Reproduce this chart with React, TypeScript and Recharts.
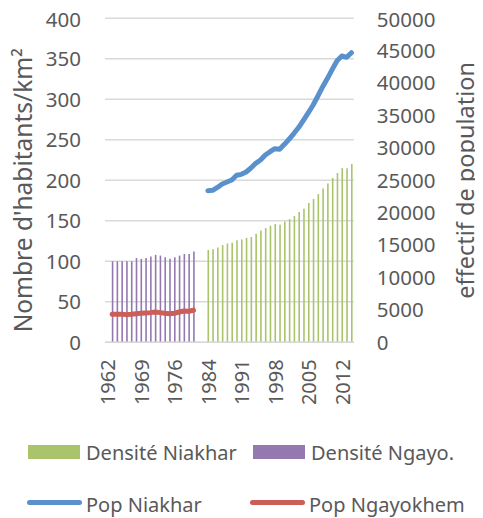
import { ComposedChart, Bar, Line, XAxis, YAxis, CartesianGrid, Legend, Label } from "recharts";

// categories (no 1983 in the series)
const years = [
  1962, 1963, 1964, 1965, 1966, 1967, 1968, 1969, 1970, 1971, 1972, 1973, 1974, 1975, 1976, 1977, 1978, 1979,
  1980, 1981, 1982, 1984, 1985, 1986, 1987, 1988, 1989, 1990, 1991, 1992, 1993, 1994, 1995, 1996, 1997, 1998,
  1999, 2000, 2001, 2002, 2003, 2004, 2005, 2006, 2007, 2008, 2009, 2010, 2011, 2012, 2013, 2014,
];

// Ngayokhem, 1963-1980
const ngayoStart = 1963;
const densiteNgayo = [100, 100, 100, 100, 100, 104, 103, 104, 106, 108, 107, 105, 103, 105, 107, 109, 109, 112];
const popNgayo = [4320, 4320, 4320, 4270, 4320, 4420, 4480, 4530, 4580, 4680, 4580, 4480, 4420, 4480, 4680, 4840, 4790, 4940];

// Niakhar, 1984-2014
const niakharStart = 1984;
const densiteNiakhar = [
  114, 115, 117, 120, 122, 123, 126, 127, 129, 130, 134, 138, 141, 144, 146, 145, 149, 152, 156, 161, 165, 172,
  177, 183, 190, 196, 203, 209, 215, 215, 220,
];
const popNiakhar = [
  23400, 23450, 23900, 24430, 24740, 25050, 25770, 25920, 26280, 26900, 27620, 28130, 28900, 29410, 29880, 29780,
  30550, 31370, 32250, 33180, 34300, 35430, 36620, 38010, 39450, 40740, 42130, 43460, 44180, 43980, 44690,
];

const leftTicks = [0, 50, 100, 150, 200, 250, 300, 350, 400];
const rightTicks = [0, 5000, 10000, 15000, 20000, 25000, 30000, 35000, 40000, 45000, 50000];

const pick = (arr: number[], start: number, year: number) => {
  const i = year - start;
  return i >= 0 && i < arr.length ? arr[i] : null;
};

const data = years.map((year) => ({
  year: String(year),
  densiteNiakhar: pick(densiteNiakhar, niakharStart, year),
  densiteNgayo: pick(densiteNgayo, ngayoStart, year),
  popNiakhar: pick(popNiakhar, niakharStart, year),
  popNgayo: pick(popNgayo, ngayoStart, year),
}));

const FONT = '"Noto Sans", sans-serif';
const TEXT = "#595959";
const GREEN = "#A9C46B";
const PURPLE = "#9478B0";
const BLUE = "#5A90CB";
const RED = "#CB5E56";

function YearTick({ x, y, payload }: any) {
  return (
    <text
      x={x}
      y={y}
      dy={0.5}
      transform={`rotate(-90, ${x}, ${y})`}
      textAnchor="end"
      dominantBaseline="central"
      fill={TEXT}
      fontSize={20}
      fontFamily={FONT}
    >
      {payload.value}
    </text>
  );
}

function ChartLegend() {
  const items = [
    { label: "Densité Niakhar", color: GREEN, kind: "bar", left: 20, top: 15 },
    { label: "Densité Ngayo.", color: PURPLE, kind: "bar", left: 245, top: 15 },
    { label: "Pop Niakhar", color: BLUE, kind: "line", left: 19, top: 65 },
    { label: "Pop Ngayokhem", color: RED, kind: "line", left: 242, top: 65 },
  ];
  return (
    <div style={{ position: "relative", width: 475, height: 88, fontFamily: FONT, fontSize: 20, color: TEXT }}>
      {items.map((it) => (
        <div
          key={it.label}
          style={{ position: "absolute", left: it.left, top: it.top, height: 14, display: "flex", alignItems: "center" }}
        >
          {it.kind === "bar" ? (
            <span style={{ display: "inline-block", width: 52, height: 14, background: it.color }} />
          ) : (
            <span style={{ display: "inline-block", width: 55, height: 5, borderRadius: 3, background: it.color }} />
          )}
          <span style={{ marginLeft: it.kind === "bar" ? 6 : 4, whiteSpace: "nowrap", lineHeight: "14px", position: "relative", top: it.kind === "bar" ? 1 : 3 }}>
            {it.label}
          </span>
        </div>
      ))}
    </div>
  );
}

export default function App() {
  return (
    <ComposedChart
      width={475}
      height={510}
      data={data}
      margin={{ top: 10.3, right: 0, bottom: 0, left: 0 }}
      style={{ fontFamily: FONT }}
    >
      <CartesianGrid yAxisId="left" vertical={false} stroke="#D9D9D9" strokeWidth={1.5} />
      <XAxis
        dataKey="year"
        interval={6}
        height={87.7}
        tickLine={false}
        tickSize={0}
        tickMargin={17}
        axisLine={{ stroke: "#D9D9D9", strokeWidth: 1.5 }}
        tick={<YearTick />}
      />
      <YAxis
        yAxisId="left"
        width={97}
        domain={[0, 400]}
        ticks={leftTicks}
        tickLine={false}
        axisLine={false}
        tickSize={0}
        tickMargin={24}
        tick={{ fill: TEXT, fontSize: 20.5, fontFamily: FONT }}
      >
        <Label
          content={({ viewBox }: any) => {
            const cx = viewBox.x + 15;
            const cy = viewBox.y + viewBox.height / 2 + 10;
            return (
              <text
                x={cx}
                y={cy}
                transform={`rotate(-90, ${cx}, ${cy})`}
                textAnchor="middle"
                dominantBaseline="central"
                fill={TEXT}
                fontSize={24.5}
                fontFamily={FONT}
              >
                Nombre d'habitants/km²
              </text>
            );
          }}
        />
      </YAxis>
      <YAxis
        yAxisId="right"
        orientation="right"
        width={129.2}
        domain={[0, 50000]}
        ticks={rightTicks}
        tickLine={false}
        axisLine={false}
        tickSize={0}
        tickMargin={23}
        tick={{ fill: TEXT, fontSize: 20.5, fontFamily: FONT }}
      >
        <Label
          content={({ viewBox }: any) => {
            const cx = viewBox.x + 111.7;
            const cy = viewBox.y + viewBox.height / 2;
            return (
              <text
                x={cx}
                y={cy}
                transform={`rotate(-90, ${cx}, ${cy})`}
                textAnchor="middle"
                dominantBaseline="central"
                fill={TEXT}
                fontSize={23.5}
                fontFamily={FONT}
              >
                effectif de population
              </text>
            );
          }}
        />
      </YAxis>
      <Bar yAxisId="left" dataKey="densiteNiakhar" name="Densité Niakhar" stackId="d" barSize={1.6} fill={GREEN} isAnimationActive={false} />
      <Bar yAxisId="left" dataKey="densiteNgayo" name="Densité Ngayo." stackId="d" barSize={1.6} fill={PURPLE} isAnimationActive={false} />
      <Line
        yAxisId="right"
        type="linear"
        dataKey="popNiakhar"
        name="Pop Niakhar"
        stroke={BLUE}
        strokeWidth={5}
        strokeLinecap="round"
        strokeLinejoin="round"
        dot={false}
        activeDot={false}
        isAnimationActive={false}
      />
      <Line
        yAxisId="right"
        type="linear"
        dataKey="popNgayo"
        name="Pop Ngayokhem"
        stroke={RED}
        strokeWidth={5}
        strokeLinecap="round"
        strokeLinejoin="round"
        dot={false}
        activeDot={false}
        isAnimationActive={false}
      />
      <Legend verticalAlign="bottom" content={<ChartLegend />} />
    </ComposedChart>
  );
}
